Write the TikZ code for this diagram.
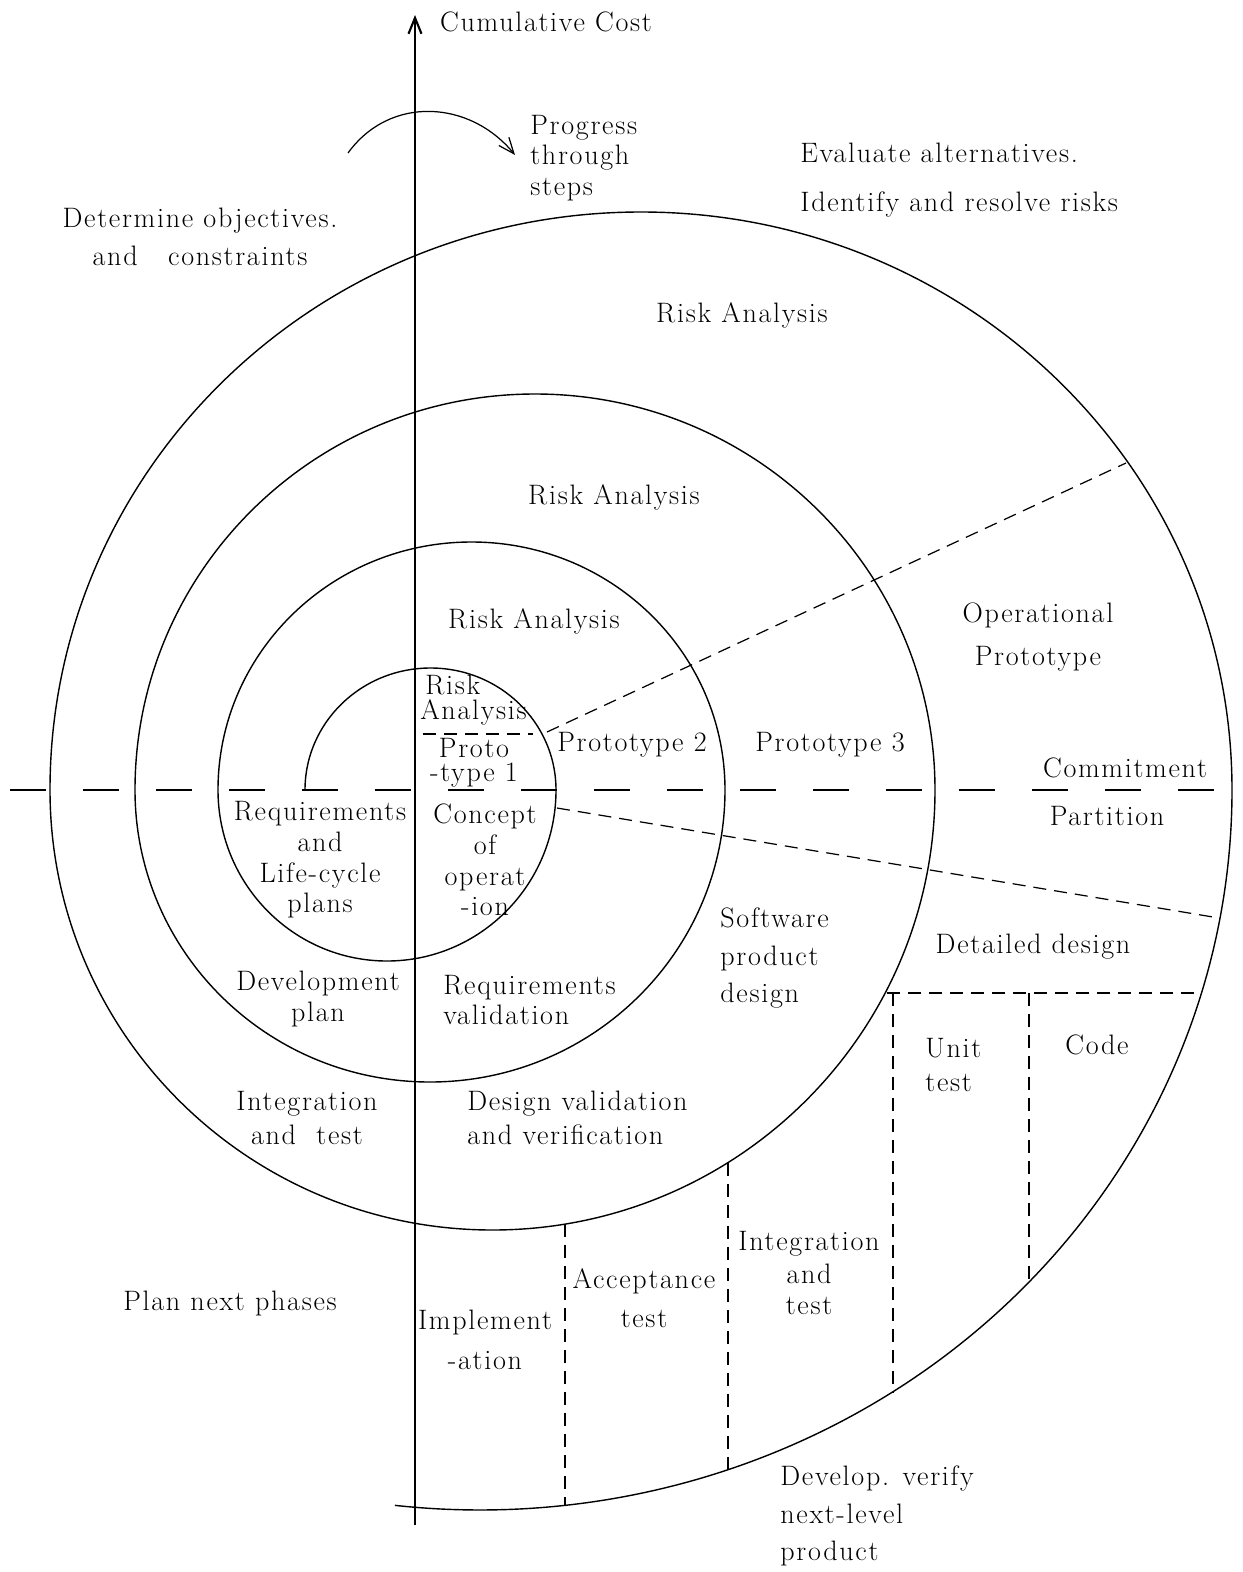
\documentclass[tikz,border=0pt]{standalone}
\usepackage{fontspec}
\setmainfont{Latin Modern Roman}[LetterSpace=6]
\usetikzlibrary{arrows.meta}
\begin{document}
\begin{tikzpicture}[x=0.02cm,y=0.02cm,
  txt/.style={font=\fontsize{16}{17.5}\selectfont, inner sep=0pt, align=center},
  spiral/.style={line width=0.8pt},
  axisline/.style={line width=1.2pt},
  axisdash/.style={line width=0.8pt, dash pattern=on 0.72cm off 0.74cm},
  guide/.style={line width=0.7pt, dash pattern=on 0.26cm off 0.16cm},
  barb/.style={-{Straight Barb[length=0.32cm,width=0.26cm]}}
]
\useasboundingbox (0,0) rectangle (1242,-1572);

% axes
\coordinate (xl) at (10,-790);
\coordinate (xr) at (1240,-790);
\coordinate (yb) at (415,-1525);
\coordinate (yt) at (415,-15);
\draw[axisdash] (xl) -- (xr);
\draw[axisline, barb] (yb) -- (yt);

% the spiral: alternating upper and lower half ellipses
\coordinate (s0) at (305,-790);
\draw[spiral] (s0)
  arc[start angle=180, end angle=0,   x radius=125.5, y radius=122]
  arc[start angle=0,   end angle=-180, x radius=169,   y radius=171]
  arc[start angle=180, end angle=0,   x radius=253.5, y radius=248]
  arc[start angle=0,   end angle=-180, x radius=295,   y radius=292]
  arc[start angle=180, end angle=0,   x radius=400,   y radius=396]
  arc[start angle=0,   end angle=-180, x radius=442.5, y radius=440]
  arc[start angle=180, end angle=0,   x radius=591,   y radius=578]
  arc[start angle=0,   end angle=-96.5, x radius=752,  y radius=720];

% direction of progress
\coordinate (pa) at (348,-153);
\coordinate (pb) at (515,-155);
\draw[line width=0.7pt, barb] (pa) .. controls (390,-95) and (470,-100) .. (pb);

% dashed partitions
\coordinate (u1) at (547,-732);  \coordinate (u2) at (1126,-463);
\coordinate (l1) at (557,-808);  \coordinate (l2) at (1219,-918);
\coordinate (r1) at (423,-734);  \coordinate (r2) at (533,-734);
\coordinate (h1) at (887,-993);  \coordinate (h2) at (1199,-993);
\coordinate (v1a) at (893,-993);  \coordinate (v1b) at (893,-1392);
\coordinate (v2a) at (1029,-993); \coordinate (v2b) at (1029,-1282);
\coordinate (v3a) at (728,-1163); \coordinate (v3b) at (728,-1470);
\coordinate (v4a) at (565,-1224); \coordinate (v4b) at (565,-1505);
\draw[guide] (u1) -- (u2);
\draw[guide] (l1) -- (l2);
\draw[guide] (r1) -- (r2);
\draw[guide] (h1) -- (h2);
\draw[guide] (v1a) -- (v1b);
\draw[guide] (v2a) -- (v2b);
\draw[guide] (v3a) -- (v3b);
\draw[guide] (v4a) -- (v4b);

% labels
\node[txt] (cc) at (546,-22) {Cumulative Cost};
\node[txt, align=left, anchor=west] (prog) at (530,-158) {Progress\\through\\steps};
\node[txt, align=left, anchor=west] (eval) at (800,-180) {Evaluate alternatives.\\[10pt]Identify and resolve risks};
\node[txt] (det) at (200,-237) {Determine objectives.\\[4pt]and\ \ \ constraints};
\node[txt] (ra1) at (742,-315) {Risk Analysis};
\node[txt] (ra2) at (614,-497) {Risk Analysis};
\node[txt] (ra3) at (534,-621) {Risk Analysis};
\node[txt, align=left, anchor=west] (ra4) at (420,-700) {\hspace{0.1cm}Risk\\[-3.5pt]Analysis};
\node[txt] (p1) at (474,-763) {Proto\\[-3.6pt]-type 1};
\node[txt] (p2) at (632,-745) {Prototype 2};
\node[txt] (p3) at (830,-745) {Prototype 3};
\node[txt] (op) at (1038,-637) {Operational\\[7pt]Prototype};
\node[txt] (com) at (1125,-768) {Commitment};
\node[txt] (part) at (1107,-816) {Partition};
\node[txt] (req) at (320,-860) {Requirements\\and\\Life-cycle\\plans};
\node[txt] (conc) at (485,-860) {Concept\\of\\operat\\-ion};
\node[txt, align=left, anchor=west] (swd) at (720,-958) {Software\\[4pt]product\\[4pt]design};
\node[txt] (dd) at (1033,-947) {Detailed design};
\node[txt] (dev) at (318,-999) {Development\\plan};
\node[txt, align=left, anchor=west] (rv) at (443,-1000) {Requirements\\validation};
\node[txt, align=left, anchor=west] (unit) at (925,-1065) {Unit\\[1.5pt]test};
\node[txt] (code) at (1097,-1045) {Code};
\node[txt] (it1) at (307,-1118) {Integration\\[1.5pt]and\ \ test};
\node[txt, align=left, anchor=west] (dvv) at (467,-1118) {Design validation\\[1.5pt]and verification};
\node[txt] (it2) at (809,-1273) {Integration\\[1.5pt]and\\test};
\node[txt] (acc) at (644,-1298) {Acceptance\\[5pt]test};
\node[txt] (impl) at (485,-1340) {Implement\\[5pt]-ation};
\node[txt] (pnp) at (230,-1303) {Plan next phases};
\node[txt, align=left, anchor=west] (dvp) at (780,-1516) {Develop. verify\\[4pt]next-level\\[4pt]product};
\end{tikzpicture}
\end{document}
